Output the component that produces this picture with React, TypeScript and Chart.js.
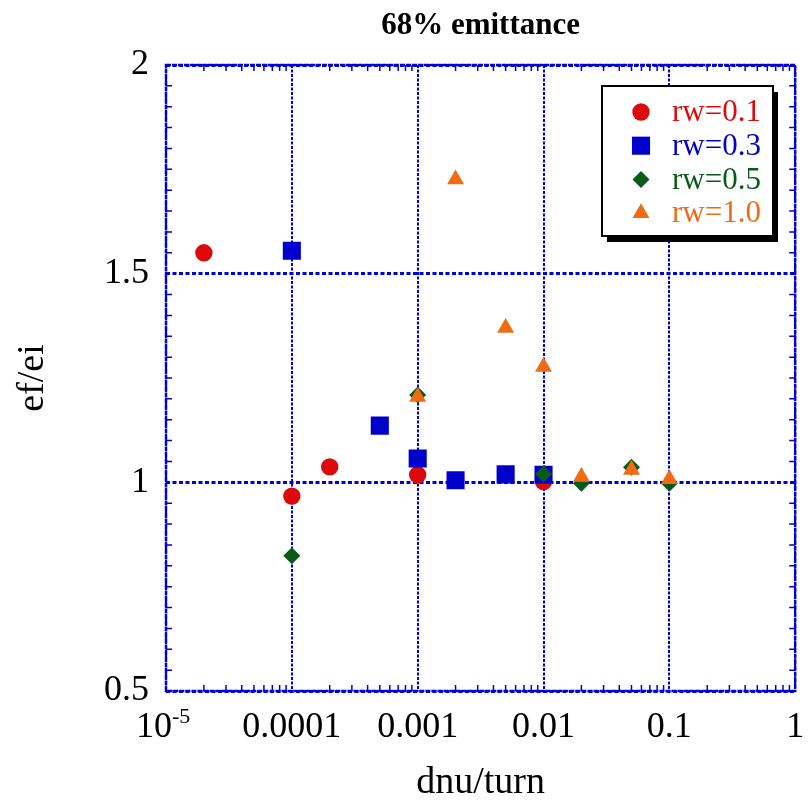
import React, { useEffect, useRef } from "react";
import { Chart, registerables } from "chart.js";

Chart.register(...registerables);

// ---- text ----
const TITLE = "68% emittance";
const X_TITLE = "dnu/turn";
const Y_TITLE = "ef/ei";
const SERIES_LABELS = ["rw=0.1", "rw=0.3", "rw=0.5", "rw=1.0"];

// ---- data ----
const rw01X = [2e-5, 1e-4, 2e-4, 1e-3, 1e-2];
const rw01Y = [1.55, 0.967, 1.037, 1.018, 1.002];

const rw03X = [1e-4, 5e-4, 1e-3, 2e-3, 5e-3, 1e-2];
const rw03Y = [1.555, 1.136, 1.057, 1.005, 1.019, 1.018];

const rw05X = [1e-4, 1e-3, 1e-2, 2e-2, 5e-2, 0.1];
const rw05Y = [0.824, 1.209, 1.02, 0.998, 1.036, 0.998];

const rw10X = [1e-3, 2e-3, 5e-3, 1e-2, 2e-2, 5e-2, 0.1];
const rw10Y = [1.205, 1.726, 1.37, 1.277, 1.013, 1.03, 1.008];

// ---- axes ----
const X_MIN = 1e-5;
const X_MAX = 1;
const X_TICK_VALUES = [1e-5, 1e-4, 1e-3, 1e-2, 1e-1, 1];
const X_TICK_LABELS = ["10", "0.0001", "0.001", "0.01", "0.1", "1"];
const X_FIRST_EXPONENT = "-5";
const Y_MIN = 0.5;
const Y_MAX = 2;
const Y_TICK_VALUES = [0.5, 1, 1.5, 2];
const Y_TICK_LABELS = ["0.5", "1", "1.5", "2"];

// ---- styles ----
const RED = "#dc0a0a";
const BLUE = "#0000cd";
const GREEN = "#0b5a19";
const ORANGE = "#f06b14";
const AXIS_BLUE = "#0000d8";
const SERIF = "'Liberation Serif', 'Times New Roman', serif";
const COLORS = [RED, BLUE, GREEN, ORANGE];
const STYLES = ["circle", "rect", "rectRot", "triangle"];
const RADII = [8.7, 12.8, 8.5, 9.8];

function pts(xs: number[], ys: number[]) {
  return xs.map((x, i) => ({ x, y: ys[i] }));
}

function isPow10(v: number) {
  const l = Math.log10(v);
  return Math.abs(l - Math.round(l)) < 1e-9;
}

function drawMarker(ctx: CanvasRenderingContext2D, style: string, x: number, y: number, r: number) {
  ctx.beginPath();
  if (style === "circle") {
    ctx.arc(x, y, r, 0, Math.PI * 2);
  } else if (style === "rect") {
    const s = r * Math.SQRT1_2;
    ctx.rect(x - s, y - s, 2 * s, 2 * s);
  } else if (style === "rectRot") {
    ctx.moveTo(x - r, y);
    ctx.lineTo(x, y - r);
    ctx.lineTo(x + r, y);
    ctx.lineTo(x, y + r);
    ctx.closePath();
  } else {
    const a = (2 * Math.PI) / 3;
    ctx.moveTo(x, y - r);
    ctx.lineTo(x + Math.sin(a) * r, y - Math.cos(a) * r);
    ctx.lineTo(x + Math.sin(2 * a) * r, y - Math.cos(2 * a) * r);
    ctx.closePath();
  }
  ctx.fill();
}

const decorPlugin = {
  id: "decor",
  afterDraw(chart: any) {
    const ctx: CanvasRenderingContext2D = chart.ctx;
    const { left, right, top, bottom } = chart.chartArea;
    const xs = chart.scales.x;
    const ys = chart.scales.y;
    ctx.save();

    // frame
    ctx.strokeStyle = AXIS_BLUE;
    ctx.lineWidth = 2.5;
    ctx.setLineDash([5, 1]);
    ctx.strokeRect(left, top, right - left, bottom - top);
    ctx.setLineDash([]);

    // inward minor ticks
    ctx.lineWidth = 1.5;
    ctx.beginPath();
    for (let k = -5; k < 0; k++) {
      for (let m = 2; m <= 9; m++) {
        const px = xs.getPixelForValue(m * Math.pow(10, k));
        ctx.moveTo(px, bottom);
        ctx.lineTo(px, bottom - 6);
        ctx.moveTo(px, top);
        ctx.lineTo(px, top + 6);
      }
    }
    for (let i = 1; i < 30; i++) {
      if (i % 10 === 0) continue;
      const py = ys.getPixelForValue(Y_MIN + i * 0.05);
      ctx.moveTo(left, py);
      ctx.lineTo(left + 6, py);
      ctx.moveTo(right, py);
      ctx.lineTo(right - 6, py);
    }
    ctx.stroke();

    // x tick labels
    ctx.fillStyle = "#000";
    ctx.font = `36px ${SERIF}`;
    ctx.textBaseline = "middle";
    X_TICK_VALUES.forEach((v, i) => {
      const px = xs.getPixelForValue(v);
      if (i === 0) {
        ctx.textAlign = "right";
        ctx.fillText(X_TICK_LABELS[i], px + 6, bottom + 37);
        ctx.font = `22px ${SERIF}`;
        ctx.textAlign = "left";
        ctx.textBaseline = "alphabetic";
        ctx.fillText(X_FIRST_EXPONENT, px + 6, bottom + 32);
        ctx.font = `36px ${SERIF}`;
        ctx.textBaseline = "middle";
      } else {
        ctx.textAlign = "center";
        ctx.fillText(X_TICK_LABELS[i], px, bottom + 37);
      }
    });

    // axis titles
    ctx.font = `38px ${SERIF}`;
    ctx.textAlign = "center";
    ctx.textBaseline = "alphabetic";
    ctx.fillText(X_TITLE, (left + right) / 2, 793);
    ctx.save();
    ctx.translate(43, (top + bottom) / 2);
    ctx.rotate(-Math.PI / 2);
    ctx.fillText(Y_TITLE, 0, 0);
    ctx.restore();

    // title
    ctx.font = `bold 31px ${SERIF}`;
    ctx.fillText(TITLE, (left + right) / 2, 34);

    // legend
    const bx = 602, by = 86, bw = 171, bh = 150;
    ctx.fillStyle = "#000";
    ctx.fillRect(bx + 5, by + 6, bw, bh);
    ctx.fillStyle = "#fff";
    ctx.fillRect(bx, by, bw, bh);
    ctx.strokeStyle = "#000";
    ctx.lineWidth = 2;
    ctx.strokeRect(bx, by, bw, bh);
    ctx.font = `31px ${SERIF}`;
    ctx.textAlign = "left";
    ctx.textBaseline = "middle";
    SERIES_LABELS.forEach((lab, i) => {
      const cy = 112 + i * 33.7;
      ctx.fillStyle = COLORS[i];
      drawMarker(ctx, STYLES[i], 641, cy, RADII[i]);
      ctx.fillText(lab, 672, cy + 1);
    });

    ctx.restore();
  },
};

export default function App() {
  const ref = useRef<HTMLCanvasElement | null>(null);

  useEffect(() => {
    document.body.style.margin = "0";
    const canvas = ref.current;
    if (!canvas) return;
    const series = [pts(rw01X, rw01Y), pts(rw03X, rw03Y), pts(rw05X, rw05Y), pts(rw10X, rw10Y)];
    const chart = new Chart(canvas, {
      type: "scatter",
      data: {
        datasets: series.map((d, i) => ({
          label: SERIES_LABELS[i],
          data: d,
          backgroundColor: COLORS[i],
          borderColor: COLORS[i],
          borderWidth: 0,
          pointStyle: STYLES[i] as any,
          pointRadius: RADII[i],
          pointHoverRadius: RADII[i],
          order: 4 - i,
        })),
      },
      options: {
        animation: false,
        responsive: false,
        devicePixelRatio: 1,
        events: [],
        layout: { padding: { left: 0, top: 65, right: 12, bottom: 0 } },
        plugins: {
          legend: { display: false },
          tooltip: { enabled: false },
          title: { display: false },
        },
        scales: {
          x: {
            type: "logarithmic",
            min: X_MIN,
            max: X_MAX,
            ticks: { display: false },
            grid: {
              drawTicks: false,
              lineWidth: 2,
              color: (c: any) => (c.tick && isPow10(c.tick.value) ? AXIS_BLUE : "rgba(0,0,0,0)"),
            },
            border: { display: false, dash: [3, 1.5] },
            afterFit: (s: any) => {
              s.height = 111;
            },
          },
          y: {
            type: "linear",
            min: Y_MIN,
            max: Y_MAX,
            ticks: {
              stepSize: 0.5,
              padding: 17,
              color: "#000",
              font: { family: SERIF, size: 36 },
              callback: (v: any) => {
                const idx = Y_TICK_VALUES.findIndex((t) => Math.abs(t - Number(v)) < 1e-9);
                return idx >= 0 ? Y_TICK_LABELS[idx] : "";
              },
            },
            grid: {
              drawTicks: false,
              lineWidth: 3,
              color: AXIS_BLUE,
            },
            border: { display: false, dash: [4, 2.5] },
            afterFit: (s: any) => {
              s.width = 166;
            },
          },
        },
      },
      plugins: [decorPlugin],
    });
    return () => chart.destroy();
  }, []);

  return <canvas ref={ref} width={808} height={802} style={{ display: "block" }} />;
}
